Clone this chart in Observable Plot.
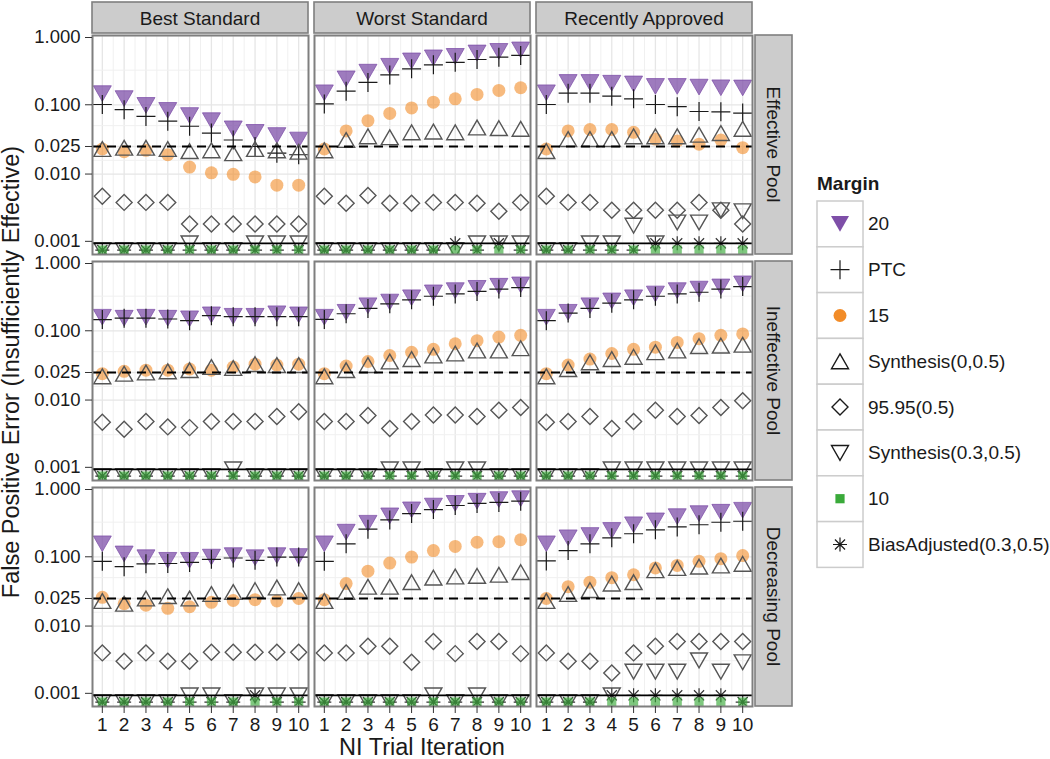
<!DOCTYPE html>
<html><head><meta charset="utf-8">
<script src="https://cdn.jsdelivr.net/npm/d3@7"></script>
<script src="https://cdn.jsdelivr.net/npm/@observablehq/plot@0.6"></script>
<style>
body{margin:0;background:#fff;}
#chart{position:relative;width:1050px;height:759px;}
</style></head><body><div id="chart"></div>
<script>
// ---------- DATA ----------
const iterations = [1,2,3,4,5,6,7,8,9,10];
const pools = ["Effective Pool", "Ineffective Pool", "Decreasing Pool"];
const standards = ["Best Standard", "Worst Standard", "Recently Approved"];
const methods = ["20","PTC","15","Synthesis(0,0.5)","95.95(0.5)","Synthesis(0.3,0.5)","10","BiasAdjusted(0.3,0.5)"];
const yTicks = [0.001, 0.010, 0.025, 0.100, 1.000];
const yGridMinor = [0.00316, 0.0158, 0.05, 0.316];
const xGridMinor = [1.5,2.5,3.5,4.5,5.5,6.5,7.5,8.5,9.5];
const niLine = 0.025;
const floorLine = 0.001;
const zeroPlot = 0.0008; // where zero rates are drawn
// panel order: Effective(Best,Worst,Recent), Ineffective(...), Decreasing(...)
const margin20 = [
 [0.145,0.123,0.098,0.083,0.070,0.059,0.045,0.040,0.036,0.031],
 [0.149,0.237,0.296,0.36,0.43,0.476,0.50,0.56,0.59,0.62],
 [0.149,0.21,0.21,0.205,0.20,0.184,0.184,0.18,0.176,0.175],
 [0.157,0.152,0.157,0.152,0.149,0.170,0.162,0.162,0.176,0.170],
 [0.157,0.185,0.23,0.26,0.30,0.353,0.38,0.41,0.44,0.46],
 [0.157,0.185,0.23,0.27,0.30,0.34,0.38,0.40,0.43,0.476],
 [0.154,0.110,0.097,0.089,0.089,0.099,0.104,0.097,0.104,0.101],
 [0.154,0.227,0.305,0.39,0.476,0.54,0.59,0.635,0.67,0.69],
 [0.154,0.188,0.203,0.24,0.29,0.33,0.38,0.42,0.44,0.47]
];
const ptc = [
 [0.101,0.085,0.068,0.058,0.049,0.039,0.031,0.025,0.020,0.019],
 [0.103,0.157,0.21,0.27,0.33,0.377,0.41,0.45,0.486,0.515],
 [0.101,0.147,0.147,0.133,0.122,0.101,0.094,0.080,0.079,0.076],
 [0.145,0.152,0.152,0.148,0.140,0.165,0.160,0.160,0.160,0.160],
 [0.146,0.176,0.21,0.245,0.28,0.315,0.34,0.37,0.40,0.42],
 [0.14,0.18,0.21,0.25,0.28,0.315,0.34,0.36,0.40,0.435],
 [0.086,0.072,0.079,0.080,0.083,0.092,0.096,0.089,0.099,0.099],
 [0.086,0.154,0.25,0.34,0.42,0.48,0.55,0.59,0.61,0.635],
 [0.087,0.123,0.154,0.188,0.215,0.245,0.27,0.29,0.315,0.326]
];
const margin15 = [
 [0.023,0.021,0.022,0.019,0.0126,0.0104,0.0099,0.0091,0.0069,0.0069],
 [0.023,0.042,0.059,0.075,0.090,0.109,0.122,0.141,0.161,0.176],
 [0.023,0.042,0.044,0.044,0.040,0.032,0.030,0.027,0.031,0.024],
 [0.024,0.026,0.027,0.027,0.028,0.027,0.030,0.033,0.032,0.033],
 [0.024,0.031,0.036,0.044,0.049,0.054,0.065,0.072,0.081,0.086],
 [0.024,0.032,0.039,0.047,0.054,0.058,0.068,0.077,0.086,0.090],
 [0.026,0.021,0.020,0.018,0.019,0.022,0.0234,0.024,0.023,0.025],
 [0.024,0.041,0.062,0.081,0.099,0.123,0.141,0.162,0.165,0.176],
 [0.025,0.037,0.043,0.050,0.055,0.069,0.075,0.086,0.094,0.104]
];
const synth0 = [
 [0.023,0.024,0.024,0.023,0.0214,0.022,0.020,0.023,0.022,0.021],
 [0.022,0.031,0.035,0.034,0.040,0.041,0.040,0.047,0.046,0.045],
 [0.0214,0.032,0.032,0.032,0.035,0.035,0.035,0.037,0.039,0.045],
 [0.022,0.024,0.025,0.026,0.027,0.030,0.029,0.033,0.032,0.032],
 [0.022,0.027,0.032,0.036,0.039,0.044,0.047,0.052,0.052,0.056],
 [0.022,0.028,0.035,0.039,0.042,0.049,0.052,0.060,0.061,0.063],
 [0.023,0.021,0.025,0.027,0.025,0.029,0.031,0.033,0.036,0.033],
 [0.023,0.031,0.037,0.037,0.043,0.050,0.052,0.053,0.055,0.060],
 [0.023,0.029,0.033,0.041,0.043,0.064,0.069,0.072,0.075,0.079]
];
const ni9595 = [
 [0.0048,0.0039,0.0039,0.0039,0.0019,0.0019,0.0019,0.0019,0.0019,0.0019],
 [0.0048,0.0038,0.0049,0.0038,0.0038,0.0039,0.0039,0.0038,0.0029,0.0039],
 [0.0048,0.0039,0.0039,0.0030,0.0030,0.0030,0.0030,0.0039,0.0030,0.0019],
 [0.0048,0.0038,0.0049,0.0041,0.0040,0.0049,0.0049,0.0049,0.0058,0.0068],
 [0.0049,0.0049,0.0060,0.0039,0.0049,0.0061,0.0061,0.0058,0.0071,0.0078],
 [0.0048,0.0049,0.0058,0.0039,0.0049,0.0071,0.0058,0.0060,0.0078,0.0098],
 [0.0041,0.0031,0.0041,0.0031,0.0031,0.0042,0.0042,0.0042,0.0042,0.0042],
 [0.0041,0.0041,0.0051,0.0051,0.0030,0.0060,0.0040,0.0060,0.0060,0.0040],
 [0.0041,0.0031,0.0031,0.0021,0.0041,0.0051,0.0060,0.0060,0.0060,0.0060]
];
const synth03 = [
 [0,0,0,0,0.001,0,0,0.001,0.001,0.001],
 [0,0,0,0,0,0,0,0.001,0.001,0.001],
 [0,0,0.001,0.001,0.0018,0.001,0.002,0.002,0.003,0.0029],
 [0,0,0,0,0,0,0.001,0,0,0],
 [0,0,0,0.001,0.001,0,0.001,0.001,0,0],
 [0,0,0,0.001,0.001,0.001,0.001,0.001,0.001,0.001],
 [0,0,0,0,0.001,0.001,0,0.001,0.001,0.001],
 [0,0,0,0,0,0.001,0,0.001,0,0],
 [0,0,0,0.001,0.0022,0.0022,0.0022,0.0032,0.0022,0.0030]
];
const margin10 = [
 [0,0,0,0,0,0,0,0,0,0],
 [0,0,0,0,0,0,0,0,0,0],
 [0,0,0,0,0,0,0,0,0,0],
 [0,0,0,0,0,0,0,0,0,0],
 [0,0,0,0,0,0,0,0,0,0],
 [0,0,0,0,0,0,0,0,0,0],
 [0,0,0,0,0,0,0,0,0,0],
 [0,0,0,0,0,0,0,0,0,0],
 [0,0,0,0,0,0,0,0,0,0]
];
const biasAdj = [
 [0,0,0,0,0,0,0,0,0,0],
 [0,0,0,0,0,0,0.001,0,0.001,0],
 [0,0,0,0,0,0.001,0.001,0.001,0.001,0.001],
 [0,0,0,0,0,0,0,0,0,0],
 [0,0,0,0,0,0,0,0,0,0],
 [0,0,0,0,0,0,0,0,0,0],
 [0,0,0,0,0,0,0,0.001,0,0],
 [0,0,0,0,0,0,0,0,0,0],
 [0,0,0,0.001,0.001,0.001,0.001,0.001,0.001,0]
];
const seriesTables = [margin20, ptc, margin15, synth0, ni9595, synth03, margin10, biasAdj];

// ---------- SYMBOLS & STYLES ----------
function sym(fn){ return {draw(ctx, size){ fn(ctx, Math.sqrt(size/Math.PI)); }}; }
const triDown = sym((c,r)=>{c.moveTo(-r,-0.87*r);c.lineTo(r,-0.87*r);c.lineTo(0,0.87*r);c.closePath();});
const triUp = sym((c,r)=>{c.moveTo(0,-0.87*r);c.lineTo(r,0.87*r);c.lineTo(-r,0.87*r);c.closePath();});
const diamond = sym((c,r)=>{c.moveTo(0,-r);c.lineTo(r,0);c.lineTo(0,r);c.lineTo(-r,0);c.closePath();});
const plus = sym((c,r)=>{c.moveTo(-r,0);c.lineTo(r,0);c.moveTo(0,-r);c.lineTo(0,r);});
const square = sym((c,r)=>{c.rect(-r,-r,2*r,2*r);});
const circle = sym((c,r)=>{c.moveTo(r,0);c.arc(0,0,r,0,2*Math.PI);c.closePath();});
const asterisk = sym((c,r)=>{const a=r*0.72;c.moveTo(0,-r);c.lineTo(0,r);c.moveTo(-r,0);c.lineTo(r,0);c.moveTo(-a,-a);c.lineTo(a,a);c.moveTo(-a,a);c.lineTo(a,-a);});

const styles = [
 {symbol: triDown, r: 9, fill: "#7e4fa8", fillOpacity: 0.75, stroke: "#7e4fa8", strokeOpacity: 0.75, strokeWidth: 1, lfill: "#7e4fa8"},
 {symbol: plus, r: 9.5, fill: "none", stroke: "#1a1a1a", strokeWidth: 1.2},
 {symbol: circle, r: 6.5, fill: "#f28c28", fillOpacity: 0.6, stroke: "none", lfill: "#f28c28"},
 {symbol: triUp, r: 8.5, fill: "none", stroke: "#555555", strokeWidth: 1.4},
 {symbol: diamond, r: 8, fill: "none", stroke: "#555555", strokeWidth: 1.4},
 {symbol: triDown, r: 8.5, fill: "none", stroke: "#555555", strokeWidth: 1.4},
 {symbol: square, r: 4.6, fill: "#3aaa3a", fillOpacity: 0.65, stroke: "none", lfill: "#3aaa3a"},
 {symbol: asterisk, r: 7, fill: "none", stroke: "#333333", strokeWidth: 1.2}
];
// drawing order (the green floor squares go on top of the zero-valued markers)
const drawOrder = [0,1,2,3,4,5,7,6];

// ---------- BUILD ROWS ----------
const rows = [];
seriesTables.forEach((table, mi) => {
  table.forEach((vals, pi) => {
    vals.forEach((v, i) => rows.push({
      method: methods[mi], pool: pools[Math.floor(pi/3)], standard: standards[pi%3],
      iter: iterations[i], value: v
    }));
  });
});

const dotMarks = drawOrder.map(mi => {
  const m = methods[mi], s = styles[mi];
  const o = {x: "iter", y: d => (d.value > 0 ? d.value : zeroPlot), fx: "standard", fy: "pool",
    symbol: s.symbol, r: s.r, fill: s.fill, stroke: s.stroke, strokeWidth: s.strokeWidth || 1, clip: true};
  if (s.fillOpacity != null) o.fillOpacity = s.fillOpacity;
  if (s.strokeOpacity != null) o.strokeOpacity = s.strokeOpacity;
  return Plot.dot(rows.filter(d => d.method === m), o);
});

const FONT = "'Liberation Sans', Arial, Helvetica, sans-serif";
const yAxisOpts = {tickFormat: d3.format(".3f"), tickSize: 7, tickPadding: 5, label: null, stroke: "#333", fill: "#1a1a1a", fontSize: 18.5};
const chart = Plot.plot({
  width: 1050, height: 759,
  marginLeft: 92, marginRight: 298, marginTop: 35, marginBottom: 53,
  style: {fontFamily: FONT, fontSize: "19px", color: "#1a1a1a", background: "white", overflow: "visible"},
  x: {domain: [0.55, 10.45], axis: null},
  y: {type: "log", domain: [0.00069, 1], axis: null},
  fx: {domain: standards, paddingInner: 0.027, paddingOuter: 0, round: false, axis: null},
  fy: {domain: pools, paddingInner: 0.031, paddingOuter: 0, round: false, axis: null},
  marks: [
    Plot.ruleX(xGridMinor, {stroke: "#f0f0f0", strokeWidth: 1}),
    Plot.ruleX(iterations, {stroke: "#e6e6e6", strokeWidth: 1.3}),
    Plot.ruleY(yGridMinor, {stroke: "#f0f0f0", strokeWidth: 1}),
    Plot.ruleY(yTicks, {stroke: "#e6e6e6", strokeWidth: 1.3}),
    ...dotMarks,
    Plot.ruleY([niLine], {stroke: "black", strokeWidth: 2, strokeDasharray: "9,6"}),
    Plot.ruleY([floorLine], {stroke: "black", strokeWidth: 1.6}),
    Plot.frame({stroke: "#7f7f7f", strokeWidth: 2}),
    Plot.axisX({ticks: iterations, tickSize: 7, tickPadding: 4, label: null, stroke: "#333", fill: "#1a1a1a", fontSize: 19}),
    Plot.axisY({...yAxisOpts, ticks: yTicks.filter(t => t > 0.001 && t < 1)}),
    Plot.axisY({...yAxisOpts, ticks: yTicks.filter(t => t <= 0.001), dy: -2}),
    Plot.axisY({...yAxisOpts, ticks: yTicks.filter(t => t >= 1), dy: 2})
  ]
});
document.getElementById("chart").appendChild(chart);

// ---------- STRIPS, TITLES, LEGEND ----------
const svg = d3.select(chart);
const fxS = chart.scale("fx"), fyS = chart.scale("fy");
function bandPos(sc, key, i){
  if (sc && typeof sc.apply === "function") return sc.apply(key);
  return sc.range[0] + i * sc.step;
}
const g = svg.append("g").attr("font-family", FONT);
standards.forEach((s, i) => {
  const x0 = bandPos(fxS, s, i), w = fxS.bandwidth;
  g.append("rect").attr("x", x0).attr("y", 2).attr("width", w).attr("height", 31)
    .attr("fill", "#cccccc").attr("stroke", "#7f7f7f").attr("stroke-width", 1.6);
  g.append("text").attr("x", x0 + w/2).attr("y", 18).attr("text-anchor", "middle")
    .attr("dominant-baseline", "central").attr("font-size", 19).attr("fill", "#1a1a1a").text(s);
});
pools.forEach((p, i) => {
  const y0 = bandPos(fyS, p, i), h = fyS.bandwidth;
  g.append("rect").attr("x", 755).attr("y", y0).attr("width", 37).attr("height", h)
    .attr("fill", "#cccccc").attr("stroke", "#7f7f7f").attr("stroke-width", 1.6);
  g.append("text").attr("transform", `translate(${773.5},${y0 + h/2}) rotate(90)`)
    .attr("text-anchor", "middle").attr("dominant-baseline", "central")
    .attr("font-size", 19).attr("fill", "#1a1a1a").text(p);
});
g.append("text").attr("x", 422).attr("y", 755).attr("text-anchor", "middle")
  .attr("font-size", 23.5).attr("fill", "#1a1a1a").text("NI Trial Iteration");
g.append("text").attr("transform", "translate(11,372) rotate(-90)").attr("text-anchor", "middle")
  .attr("dominant-baseline", "central").attr("font-size", 23.5).attr("fill", "#1a1a1a")
  .text("False Positive Error (Insufficiently Effective)");

// legend
const lg = svg.append("g").attr("font-family", FONT).attr("text-anchor", "start");
lg.append("text").attr("x", 817).attr("y", 183).attr("text-anchor", "start").attr("dominant-baseline", "central")
  .attr("font-size", 19).attr("font-weight", "bold").attr("fill", "#1a1a1a").text("Margin");
const boxH = 45.8, boxW = 46, top0 = 201;
methods.forEach((m, i) => {
  const s = styles[i];
  const y = top0 + i * boxH;
  lg.append("rect").attr("x", 817).attr("y", y).attr("width", boxW).attr("height", boxH)
    .attr("fill", "white").attr("stroke", "#cccccc").attr("stroke-width", 1.5);
  const path = d3.symbol(s.symbol, Math.PI * s.r * s.r)();
  const filled = s.fill !== "none";
  lg.append("path").attr("d", path).attr("transform", `translate(${817 + boxW/2},${y + boxH/2})`)
    .attr("fill", filled ? s.lfill : "none")
    .attr("stroke", filled ? "none" : "#1a1a1a")
    .attr("stroke-width", s.strokeWidth || 1.2);
  lg.append("text").attr("x", 868).attr("y", y + boxH/2).attr("text-anchor", "start").attr("dominant-baseline", "central")
    .attr("font-size", 19).attr("fill", "#1a1a1a").text(m);
});
</script></body></html>
